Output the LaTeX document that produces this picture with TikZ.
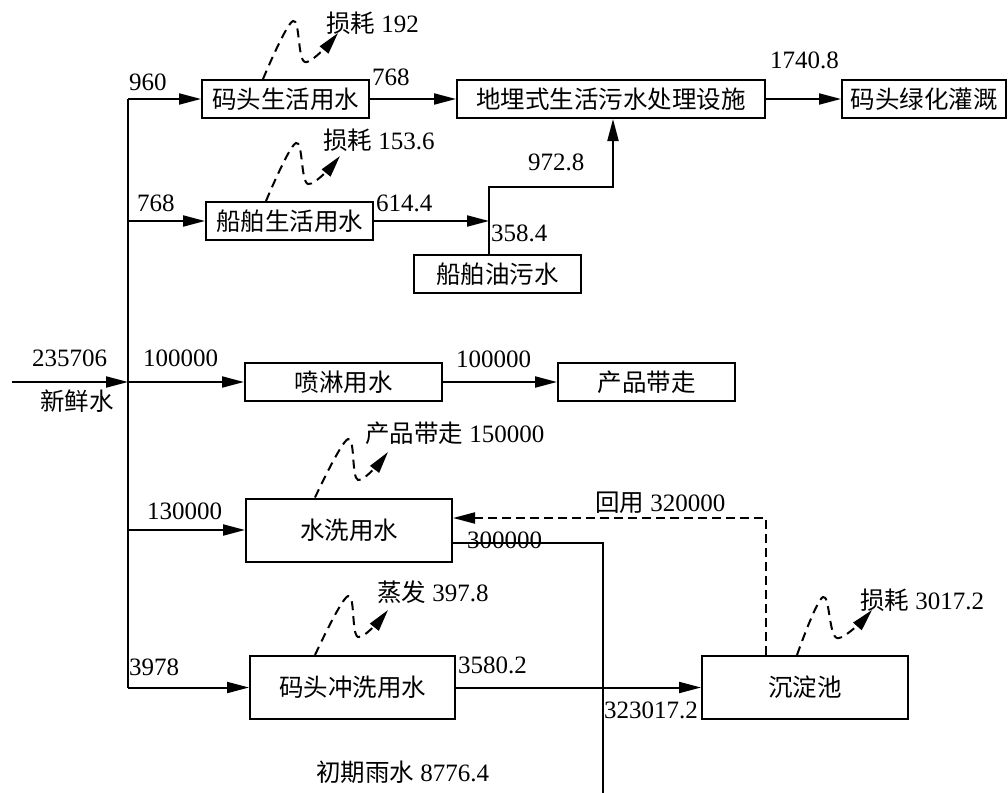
\documentclass[tikz,border=0pt]{standalone}
\usepackage{fontspec}
\setmainfont{Liberation Serif}
\newfontfamily\cjk[Scale=0.98]{Noto Sans CJK SC}
\usetikzlibrary{arrows.meta}
\tikzset{
  box/.style={draw, line width=2pt, inner sep=0pt, minimum height=38pt},
  tall/.style={minimum height=63pt},
  lbl/.style={anchor=west, inner sep=0pt},
  conn/.style={line width=2pt},
  flow/.style={line width=2pt, -{Triangle[length=22pt,width=11pt]}},
  dflow/.style={line width=2pt, dash pattern=on 9pt off 5pt, -{Triangle[length=22pt,width=11pt]}},
  wav/.style={line width=2pt, dash pattern=on 9pt off 6pt, -{Triangle[length=22pt,width=11pt]}},
}
\begin{document}
\begin{tikzpicture}[x=1pt,y=-1pt,font=\fontsize{25}{30}\selectfont]
\useasboundingbox (0,0) rectangle (1008,792);

% boxes
\node[box, minimum width=167pt] (b1) at (285.5,99) {\cjk 码头生活用水};
\node[box, minimum width=308pt] (b2) at (611,99) {\cjk 地埋式生活污水处理设施};
\node[box, minimum width=164pt] (b3) at (924,99) {\cjk 码头绿化灌溉};
\node[box, minimum width=167pt] (b4) at (289.5,221) {\cjk 船舶生活用水};
\node[box, minimum width=167pt] (b5) at (497.5,274) {\cjk 船舶油污水};
\node[box, minimum width=197pt] (b6) at (343.5,382) {\cjk 喷淋用水};
\node[box, minimum width=177pt] (b7) at (646.5,382) {\cjk 产品带走};
\node[box, tall, minimum width=206pt] (b8) at (349,530) {\cjk 水洗用水};
\node[box, tall, minimum width=205pt] (b9) at (352.5,687.5) {\cjk 码头冲洗用水};
\node[box, tall, minimum width=206pt] (b10) at (805,687.5) {\cjk 沉淀池};

% trunk
\coordinate (trunk) at (128,0);
\coordinate (fw) at (12,382);
\draw[conn] (b1.west -| trunk) -- (b9.west -| trunk);
\draw[flow] (fw) -- (b6.west -| trunk);
\draw[flow] (b1.west -| trunk) -- (b1.west);
\draw[flow] (b4.west -| trunk) -- (b4.west);
\draw[flow] (b6.west -| trunk) -- (b6.west);
\draw[flow] (b8.west -| trunk) -- (b8.west);
\draw[flow] (b9.west -| trunk) -- (b9.west);

% top row
\draw[flow] (b1.east) -- (b2.west);
\draw[flow] (b2.east) -- (b3.west);

% ship
\coordinate (j1) at (489,221);
\coordinate (j2) at (489,187);
\coordinate (j3) at (613,187);
\draw[flow] (b4.east) -- (j1);
\draw[flow] (b5.north -| j2) -- (j2) -- (j3) -- (b2.south -| j3);

% spray
\draw[flow] (b6.east) -- (b7.west);

% wash out
\coordinate (k1) at (603,543);
\coordinate (k2) at (603,793);
\draw[conn] (b8.east |- k1) -- (k1) -- (k2);

% recycle
\coordinate (r1) at (766,518);
\draw[dflow] (b10.north -| r1) -- (r1) -- (b8.east |- r1);

% flush to settling
\draw[flow] (b9.east) -- (b10.west);

% wavy losses
\coordinate (w1s) at (b1.north -| 263,0);
\coordinate (w1e) at (338,33);
\draw[wav] plot[smooth, tension=0.6] coordinates {(w1s) (293,21) (305,62) (w1e)};
\coordinate (w2s) at (b4.north -| 266,0);
\coordinate (w2e) at (340,156);
\draw[wav] plot[smooth, tension=0.6] coordinates {(w2s) (296,143) (308,184) (w2e)};
\coordinate (w3s) at (b8.north -| 315,0);
\coordinate (w3e) at (388,452);
\draw[wav] plot[smooth, tension=0.6] coordinates {(w3s) (348,439) (358,480) (w3e)};
\coordinate (w4s) at (b9.north -| 315,0);
\coordinate (w4e) at (388,610);
\draw[wav] plot[smooth, tension=0.6] coordinates {(w4s) (348,596) (358,637) (w4e)};
\coordinate (w5s) at (b10.north -| 797,0);
\coordinate (w5e) at (872,610);
\draw[wav] plot[smooth, tension=0.6] coordinates {(w5s) (823,597) (837,638) (w5e)};

% labels
\node[lbl] (l1) at (129,82) {960};
\node[lbl] (l2) at (372,77) {768};
\node[lbl] (l3) at (326,23) {{\cjk 损耗} 192};
\node[lbl] (l4) at (770,60) {1740.8};
\node[lbl] (l5) at (137,203) {768};
\node[lbl] (l6) at (376,203) {614.4};
\node[lbl] (l7) at (323,140) {{\cjk 损耗} 153.6};
\node[lbl] (l8) at (528,162) {972.8};
\node[lbl] (l9) at (491,233) {358.4};
\node[lbl] (l10) at (32,358) {235706};
\node[lbl] (l11) at (40,401) {\cjk 新鲜水};
\node[lbl] (l12) at (143,358) {100000};
\node[lbl] (l13) at (456,359) {100000};
\node[lbl] (l14) at (365,433) {{\cjk 产品带走} 150000};
\node[lbl] (l15) at (147,511) {130000};
\node[lbl] (l16) at (595,503) {{\cjk 回用} 320000};
\node[lbl] (l17) at (467,540) {300000};
\node[lbl] (l18) at (377,592) {{\cjk 蒸发} 397.8};
\node[lbl] (l19) at (129,667) {3978};
\node[lbl] (l20) at (458,665) {3580.2};
\node[lbl] (l21) at (604,710) {323017.2};
\node[lbl] (l22) at (860,600) {{\cjk 损耗} 3017.2};
\node[lbl] (l23) at (316,772) {{\cjk 初期雨水} 8776.4};
\end{tikzpicture}
\end{document}
